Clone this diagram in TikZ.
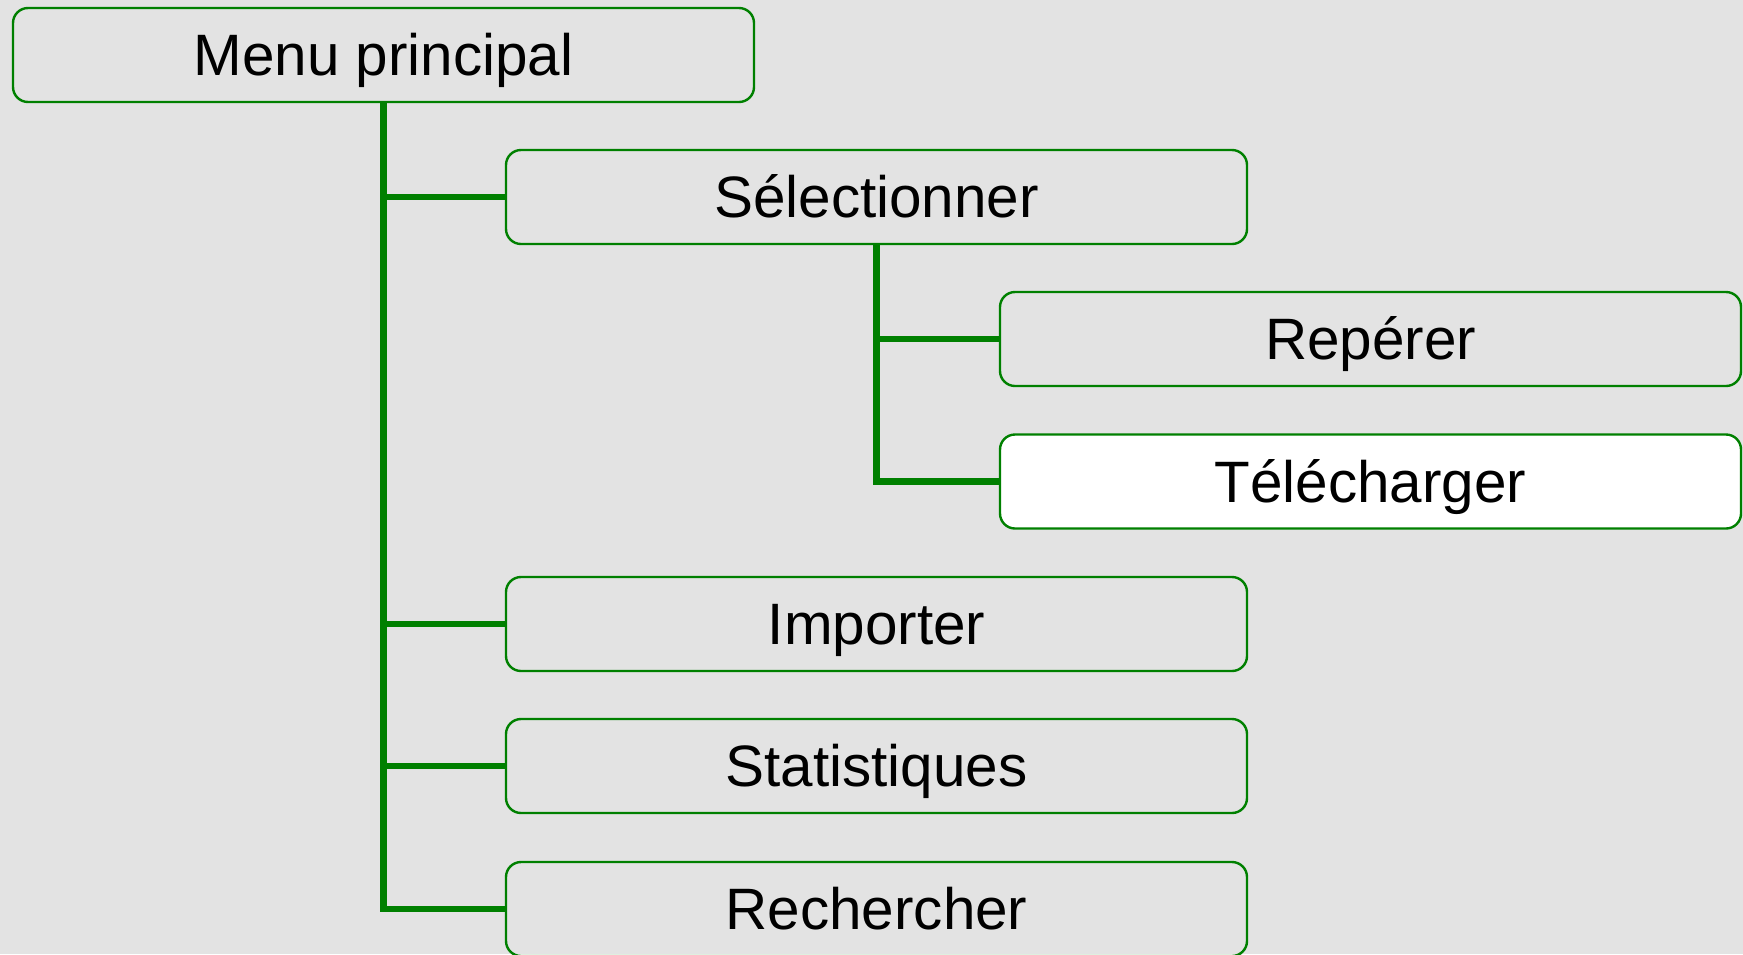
\documentclass[tikz,border=0pt]{standalone}
\usepackage{fontspec}
\setmainfont{Liberation Sans}
\definecolor{bg}{HTML}{E3E3E3}
\definecolor{tree}{HTML}{008000}
\begin{document}
\begin{tikzpicture}[x=0.5pt,y=-0.5pt,
  menubox/.style={draw=tree, line width=1.2pt, rounded corners=7.5pt,
    minimum width=370.5pt, minimum height=47pt, inner sep=0pt,
    text height=20.8pt, text depth=0pt, font=\fontsize{29.2}{34}\selectfont, text=black},
  link/.style={draw=tree, line width=3.3pt}]
\useasboundingbox (0,0) rectangle (1743,954);
\fill[bg] (0,0) rectangle (1743,954);
\node[menubox] (menu) at (383.5,55) {Menu principal};
\node[menubox] (sel) at (876.5,197) {Sélectionner};
\node[menubox] (rep) at (1370.5,339) {Repérer};
\node[menubox, fill=white] (tel) at (1370.5,481.5) {Télécharger};
\node[menubox] (imp) at (876.5,624) {Importer};
\node[menubox] (stat) at (876.5,766) {Statistiques};
\node[menubox] (rech) at (876.5,909) {Rechercher};
\draw[link] (menu.south) |- (sel.west);
\draw[link] (menu.south) |- (imp.west);
\draw[link] (menu.south) |- (stat.west);
\draw[link] (menu.south) |- (rech.west);
\draw[link] (sel.south) |- (rep.west);
\draw[link] (sel.south) |- (tel.west);
\end{tikzpicture}
\end{document}
